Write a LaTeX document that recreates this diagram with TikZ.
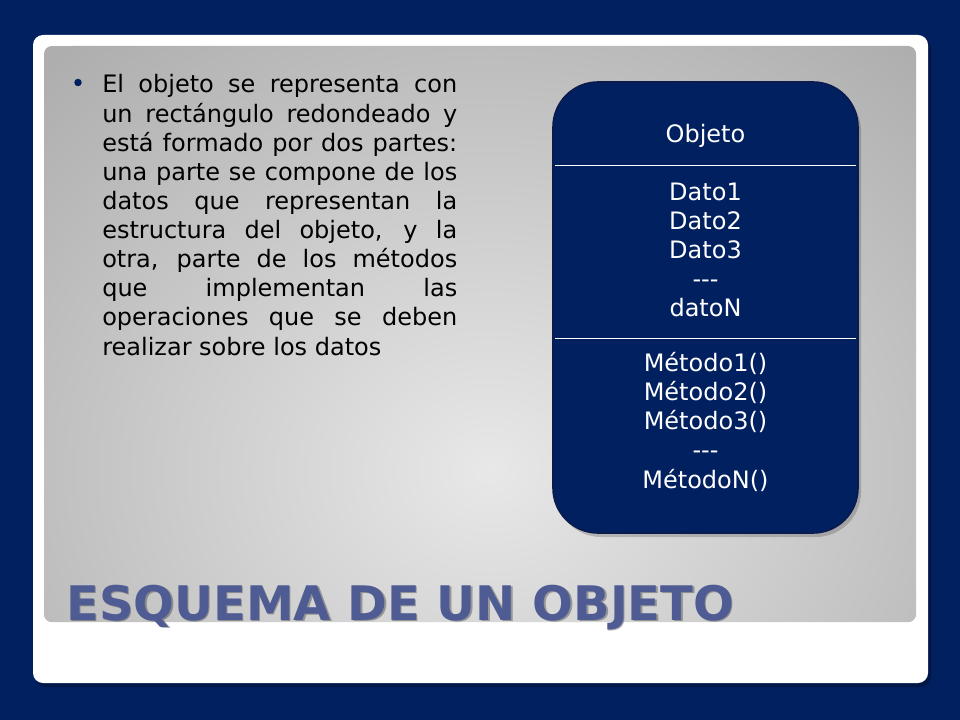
\documentclass[tikz,border=0pt]{standalone}
\usepackage{fontspec}
\setmainfont{DejaVu Sans}
\usepackage{graphicx}
\definecolor{navy}{HTML}{002060}
\definecolor{navyedge}{HTML}{0B1B4E}
\definecolor{titlecol}{HTML}{4F5B93}
\definecolor{panelin}{HTML}{E8E8E8}
\definecolor{panelout}{HTML}{AEAEAE}
\tikzset{
  bodyline/.style={anchor=base west, inner sep=0pt, text=black, font=\fontsize{18}{21.8}\selectfont},
  boxtext/.style={anchor=base, inner sep=0pt, text=white, font=\fontsize{18}{21.8}\selectfont},
  objbox/.style={draw=navyedge, line width=1.2pt, fill=navy, rounded corners=33.75pt, inner sep=0pt},
  sepline/.style={draw=white, line width=0.6pt},
  titlestyle/.style={anchor=base west, inner sep=0pt, text=titlecol, font=\fontsize{36}{40}\selectfont\bfseries}
}
\begin{document}
\begin{tikzpicture}[x=0.75pt,y=-0.75pt]
\useasboundingbox (0,0) rectangle (960,720);
% background
\fill[navy] (0,0) rectangle (960,720);
% frame shadow + white frame
\fill[black, opacity=0.25, rounded corners=7.5pt] (35,38) rectangle (931,687);
\fill[white, rounded corners=7.5pt] (33,35) rectangle (928,683);
% gray panel
\begin{scope}
  \clip[rounded corners=6pt] (44,46) rectangle (916,622);
  \fill[panelout] (44,46) rectangle (916,622);
  \shade[inner color=panelin, outer color=panelout] (490,470) ellipse [x radius=640, y radius=560];
\end{scope}
% bullet and body text
\fill[navy] (78,82.5) circle [radius=2.8pt];
\foreach \txt [count=\i from 0] in {
  El objeto se representa con,
  un rectángulo redondeado y,
  está formado por dos partes:,
  una parte se compone de los,
  datos que representan la,
  estructura del objeto{,} y la,
  otra{,} parte de los métodos,
  que implementan las,
  operaciones que se deben}
  \node[bodyline] (line\i) at (102,{93+29.1*\i}) {\makebox[266.25pt][s]{\txt}};
\node[bodyline] (line9) at (102,355) {realizar sobre los datos};
% object box shadow + box
\fill[black, opacity=0.18, rounded corners=33.75pt] (556,86) rectangle (861,537);
\node[objbox, minimum width=228.75pt, minimum height=338.25pt] (box) at (705.5,307.5) {};
\coordinate (s1l) at (555,165);
\coordinate (s1r) at (856,165);
\coordinate (s2l) at (555,338);
\coordinate (s2r) at (856,338);
\draw[sepline] (s1l) -- (s1r);
\draw[sepline] (s2l) -- (s2r);
\node[boxtext] (objname) at (705.5,143) {Objeto};
\foreach \txt/\y [count=\i] in {Dato1/200.5, Dato2/229.5, Dato3/258.5, -{}-{}-/287.5, datoN/316.7}
  \node[boxtext] (dato\i) at (705.5,\y) {\txt};
\foreach \txt/\y [count=\i] in {Método1()/371.7, Método2()/400.7, Método3()/429.5, -{}-{}-/458.3, MétodoN()/488}
  \node[boxtext] (metodo\i) at (705.5,\y) {\txt};
% title with shadow
\node[titlestyle, text=black, opacity=0.3] (titleshadow) at (67.5,621.5) {\resizebox{501pt}{26.5pt}{ESQUEMA DE UN OBJETO}};
\node[titlestyle] (title) at (66,620) {\resizebox{501pt}{26.5pt}{ESQUEMA DE UN OBJETO}};
\end{tikzpicture}
\end{document}
